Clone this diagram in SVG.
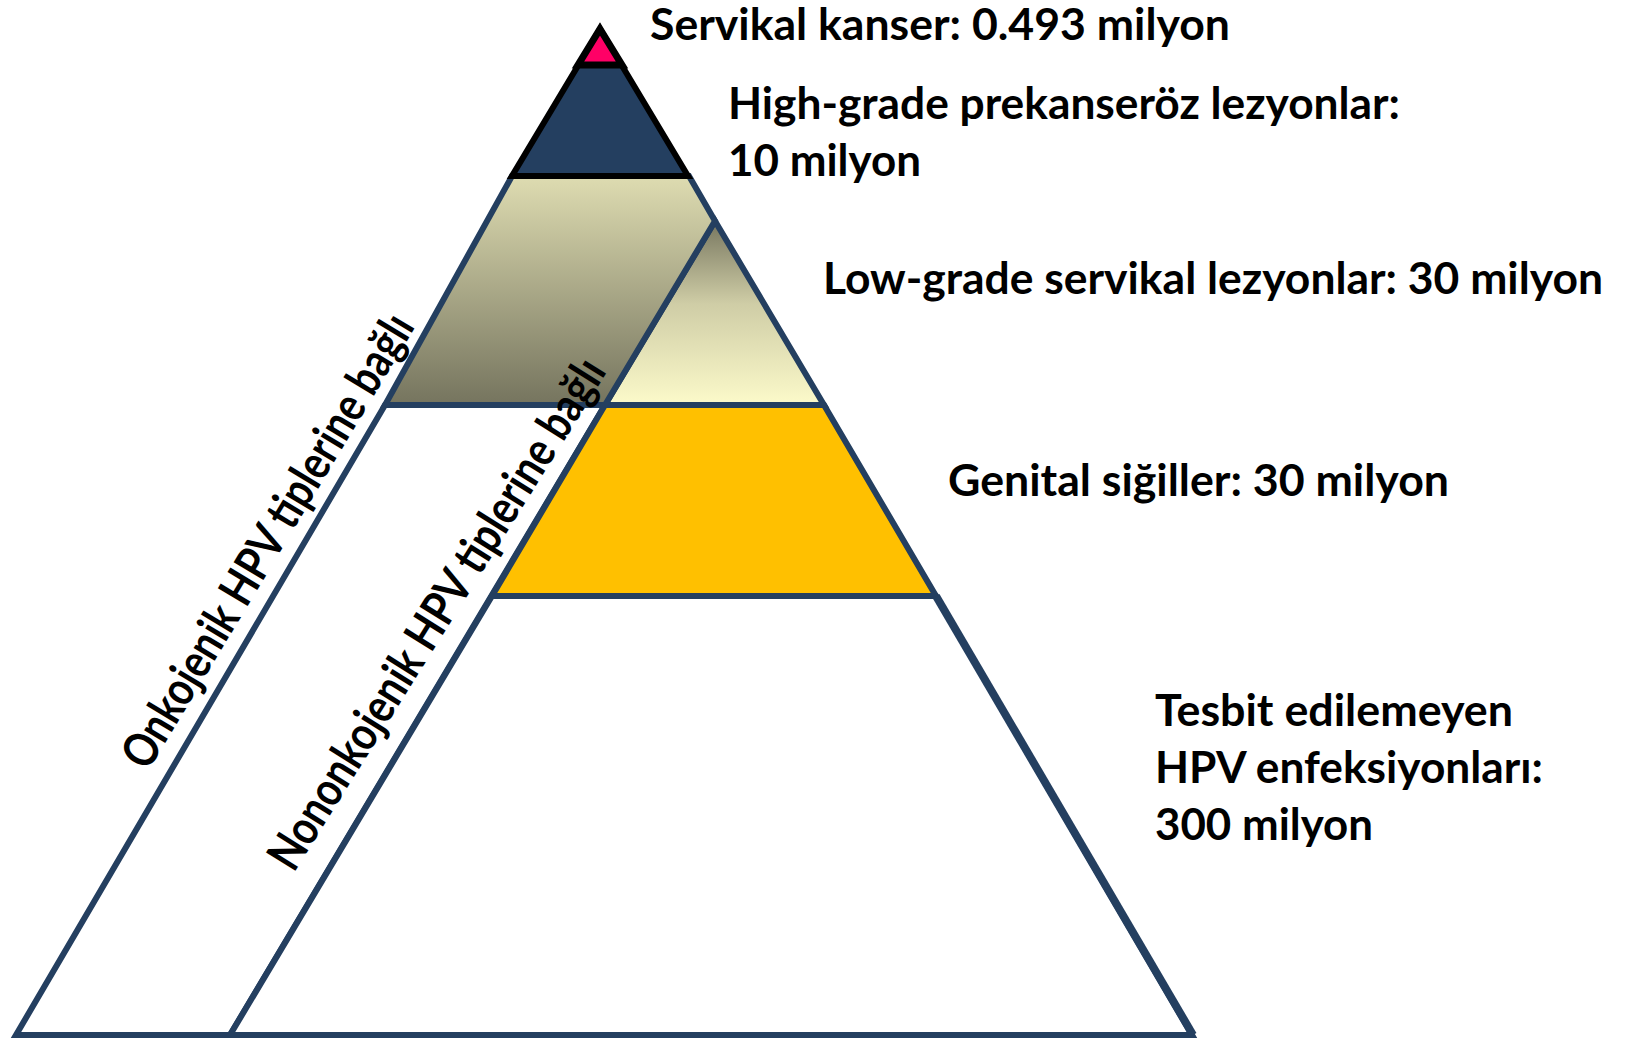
<svg xmlns="http://www.w3.org/2000/svg" width="1626" height="1040" viewBox="0 0 1626 1040">
<style>
.edge{stroke:#243F60;stroke-width:6;stroke-linejoin:miter}
.lbl{font-family:Lato,"Open Sans","Liberation Sans",sans-serif;font-weight:bold;font-size:44px;fill:#000}
.rot{font-family:Lato,"Open Sans","Liberation Sans",sans-serif;font-weight:bold;font-size:48px;fill:#000}
</style>
<defs>
<linearGradient id="gKhaki" x1="0" y1="176" x2="0" y2="405" gradientUnits="userSpaceOnUse">
<stop offset="0" stop-color="#DEDCB1"/>
<stop offset="1" stop-color="#75745E"/>
</linearGradient>
<linearGradient id="gLow" x1="0" y1="221" x2="0" y2="405" gradientUnits="userSpaceOnUse">
<stop offset="0" stop-color="#77765F"/>
<stop offset="0.45" stop-color="#CFCDA6"/>
<stop offset="1" stop-color="#FCFACA"/>
</linearGradient>
</defs>
<rect width="1626" height="1040" fill="#FFFFFF"/>

<g id="band-onkojenik">
<polygon class="edge" fill="#FFFFFF" points="385,405 605,405 230,1035 16,1035"/>
</g>
<g id="layer-bottom">
<polygon class="edge" fill="#FFFFFF" points="492,596 936,596 1192,1035 230,1035"/>
</g>
<g id="layer-genital">
<polygon class="edge" fill="#FFC000" points="605,405 824,405 936,596 492,596"/>
</g>
<g id="layer-lowgrade">
<polygon class="edge" fill="url(#gLow)" points="715,221 824,405 605,405"/>
</g>
<g id="layer-khaki">
<polygon class="edge" fill="url(#gKhaki)" points="512,176 689,176 715,221 605,405 385,405"/>
</g>
<g id="layer-highgrade">
<polygon fill="#243F60" stroke="#000000" stroke-width="6" stroke-linejoin="miter" points="600,29 688,176 512,176"/>
</g>
<g id="layer-cancer">
<polygon fill="#FF0066" stroke="#000000" stroke-width="7" stroke-linejoin="miter" points="600,29 622,65 578,65"/>
</g>
<g id="connectors">
<line x1="936" y1="596" x2="1193" y2="1035" stroke="#243F60" stroke-width="8"/>
</g>

<g id="labels">
<text class="lbl" x="650" y="40" textLength="580" lengthAdjust="spacingAndGlyphs">Servikal kanser: 0.493 milyon</text>
<text class="lbl" x="728" y="119" textLength="672" lengthAdjust="spacingAndGlyphs">High-grade prekanseröz lezyonlar:</text>
<text class="lbl" x="728" y="176" textLength="193" lengthAdjust="spacingAndGlyphs">10 milyon</text>
<text class="lbl" x="823" y="294" textLength="780" lengthAdjust="spacingAndGlyphs">Low-grade servikal lezyonlar: 30 milyon</text>
<text class="lbl" x="948" y="496" textLength="501" lengthAdjust="spacingAndGlyphs">Genital siğiller: 30 milyon</text>
<text class="lbl" x="1155" y="726" textLength="358" lengthAdjust="spacingAndGlyphs">Tesbit edilemeyen</text>
<text class="lbl" x="1155" y="783" textLength="388" lengthAdjust="spacingAndGlyphs">HPV enfeksiyonları:</text>
<text class="lbl" x="1155" y="840" textLength="218" lengthAdjust="spacingAndGlyphs">300 milyon</text>
<text class="rot" transform="translate(268,541) rotate(-59)" x="0" y="16" text-anchor="middle" textLength="520" lengthAdjust="spacingAndGlyphs">Onkojenik HPV tiplerine bağlı</text>
<text class="rot" transform="translate(437,614) rotate(-58)" x="0" y="16" text-anchor="middle" textLength="592" lengthAdjust="spacingAndGlyphs">Nononkojenik HPV tiplerine bağlı</text>
</g>
</svg>
